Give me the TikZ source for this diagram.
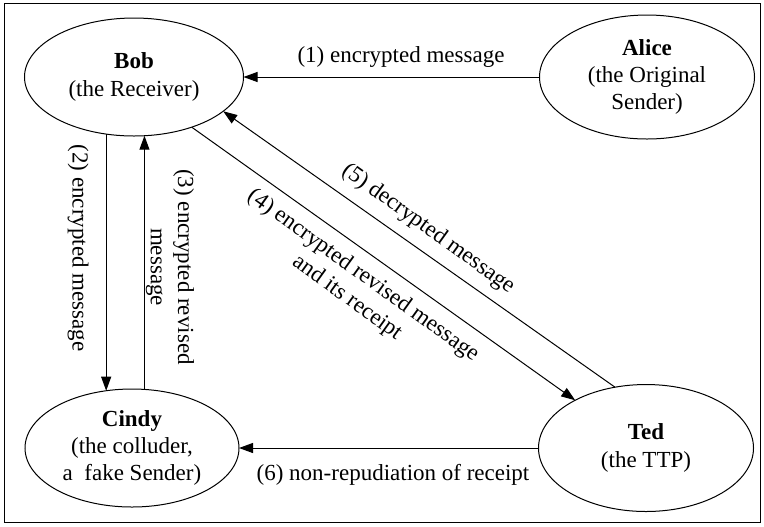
\documentclass[tikz,border=0pt]{standalone}
\usepackage{fontspec}
\setmainfont{Liberation Serif}
\usetikzlibrary{arrows.meta,shapes.geometric}
\begin{document}
\begin{tikzpicture}[x=0.5pt,y=-0.5pt,
  font=\fontsize{11.5pt}{13.7pt}\selectfont,
  party/.style={ellipse, draw, line width=0.5pt, inner sep=0pt, outer sep=0pt, align=center},
  flow/.style={-{Triangle[length=7pt,width=5pt]}, line width=0.5pt},
  lab/.style={inner sep=0pt, align=center}]
\useasboundingbox (0,0) rectangle (764,526);
% outer frame
\draw[line width=0.5pt] (4,3) rectangle (760,522);

% the four parties
\node[party, minimum width=109.5pt, minimum height=59pt] (bob) at (134,77)
  {\textbf{Bob}\\(the Receiver)};
\node[party, minimum width=107.5pt, minimum height=62pt] (alice) at (647,77)
  {\textbf{Alice}\\(the Original\\Sender)};
\node[party, minimum width=107pt, minimum height=59pt] (cindy) at (132,448)
  {\textbf{Cindy}\\(the colluder,\\a~~fake Sender)};
\node[party, minimum width=107.5pt, minimum height=63.5pt] (ted) at (646,448)
  {\textbf{Ted}\\(the TTP)};

% message flows
\draw[flow] (alice.west) -- (bob.east);
\draw[flow] (bob.244) -- (bob.244 |- cindy.114);
\draw[flow] (cindy.78) -- (cindy.78 |- bob.280);
\draw[flow] (bob.319) -- (ted.146);
\draw[flow] (ted.117) -- (bob.339);
\draw[flow] (ted.west) -- (cindy.east);

% flow labels
\node[lab] (l1) at (401,57) {(1) encrypted message};
\node[lab, rotate=-90] (l2) at (78,248) {(2) encrypted message};
\node[lab, rotate=-90] (l3) at (170,267) {(3) encrypted revised\\message};
\node[lab, rotate=-35.7] (l4) at (355,287) {(4) encrypted revised message\\and its receipt};
\node[lab, rotate=-35.7] (l5) at (428,229) {(5) decrypted message};
\node[lab] (l6) at (393,475) {(6) non-repudiation of receipt};
\end{tikzpicture}
\end{document}
